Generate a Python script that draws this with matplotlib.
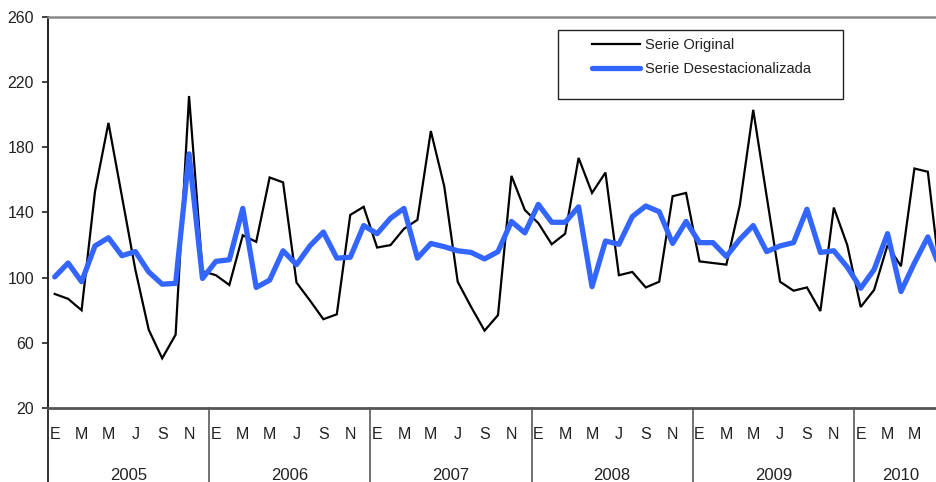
import numpy as np
import matplotlib
matplotlib.use("Agg")
import matplotlib.pyplot as plt
import matplotlib.transforms as mtransforms
from matplotlib.patches import Rectangle

plt.rcParams['font.family'] = ['Liberation Sans', 'DejaVu Sans']

# ---- data ----
years = ['2005', '2006', '2007', '2008', '2009', '2010']
month_letters = ['E', 'F', 'M', 'A', 'M', 'J', 'J', 'A', 'S', 'O', 'N', 'D']

serie_original = [
    90, 87, 80, 153, 195, 150, 105, 68, 50.5, 65, 211.5, 104,
    101.5, 95.5, 126, 122, 161.5, 158.5, 97, 86, 74.5, 77.5, 138.5, 143.5,
    118.5, 120, 130, 135.5, 190, 156, 97.5, 82, 67.5, 77, 162.5, 141.5,
    133.5, 120.5, 127, 173.5, 152, 164.5, 101.5, 103.5, 94, 97.5, 150, 152,
    110, 109, 108, 144.5, 203, 150, 97.5, 92, 94, 79.5, 143, 120,
    82, 92.5, 120, 107, 167, 165, 95,
]
serie_desest = [
    100.5, 109, 97.5, 119.5, 124.5, 113.5, 116, 103.5, 96, 96.5, 176, 99.5,
    110, 111, 142.5, 94, 98.5, 116.5, 108, 119.5, 128, 112, 112.5, 132,
    127, 136.5, 142.5, 112, 121, 119, 116.5, 115.5, 111.5, 116, 134.5, 127.5,
    145, 134, 134, 143.5, 94.5, 122.5, 120.5, 137.5, 144, 140.5, 121, 134.5,
    121.5, 121.5, 113, 123.5, 132, 116, 119.5, 121.5, 142, 115.5, 116.5, 106.5,
    93.5, 105, 127, 91.5, 109, 125, 104,
]
yticks = [20, 60, 100, 140, 180, 220, 260]

# ---- figure ----
W, H = 936, 482
fig = plt.figure(figsize=(W / 100, H / 100), dpi=100)
ax_left, ax_right, ax_top, ax_bottom = 48, 948, 17, 408
ax = fig.add_axes([ax_left / W, (H - ax_bottom) / H,
                   (ax_right - ax_left) / W, (ax_bottom - ax_top) / H])

n = len(serie_original)
x = np.arange(n)
ax.plot(x, serie_original, color='black', lw=1.6, label='Serie Original',
        solid_joinstyle='miter', zorder=3)
ax.plot(x, serie_desest, color='#3366FF', lw=3.8, label='Serie Desestacionalizada',
        solid_joinstyle='round', solid_capstyle='round', zorder=4)

ax.set_xlim(-0.5, n - 0.5)
ax.set_ylim(20, 260)
ax.set_yticks(yticks)
ax.set_yticklabels([str(v) for v in yticks], fontsize=11.5)
ax.tick_params(axis='y', direction='out', length=4, width=1.2, pad=6, colors='#222222')
ax.set_xticks([])

ax.spines['right'].set_visible(False)
ax.spines['top'].set_color('#8a8a8a')
ax.spines['top'].set_linewidth(1.8)
ax.spines['bottom'].set_color('#555555')
ax.spines['bottom'].set_linewidth(2.0)
ax.spines['left'].set_color('#222222')
ax.spines['left'].set_linewidth(1.4)

# month letters and year labels
trans = mtransforms.blended_transform_factory(ax.transData, ax.transAxes)
month_w = (ax_right - ax_left) / n
for i in range(n):
    px = ax_left + (i + 0.5) * month_w
    if i % 2 == 0 and px + 5 < W:
        ax.text(i, -0.0665, month_letters[i % 12], transform=trans,
                ha='center', va='center', fontsize=11.5, color='#222222', clip_on=False)
for k, yr in enumerate(years):
    start = 12 * k
    end = min(12 * (k + 1), n)
    ax.text((start + end - 1) / 2, -0.172, yr, transform=trans,
            ha='center', va='center', fontsize=12, color='#222222', clip_on=False)
    ax.plot([start - 0.5, start - 0.5], [0, -0.25], transform=trans,
            color='#222222' if k == 0 else '#666666', lw=1.3, clip_on=False)

# legend
leg = ax.legend(loc='upper left', bbox_to_anchor=(592 / W, 1 - 38 / H),
                bbox_transform=fig.transFigure, frameon=False, fontsize=10.5,
                handlelength=3.3, handletextpad=0.34, labelspacing=0.7,
                borderpad=0, borderaxespad=0)
for t in leg.get_texts():
    t.set_color('#222222')
fig.add_artist(Rectangle((558 / W, 1 - 99 / H), (843 - 558) / W, (99 - 30) / H,
                         transform=fig.transFigure, fill=False,
                         edgecolor='#222222', lw=1.0))

fig.savefig('out.png', dpi=100)
